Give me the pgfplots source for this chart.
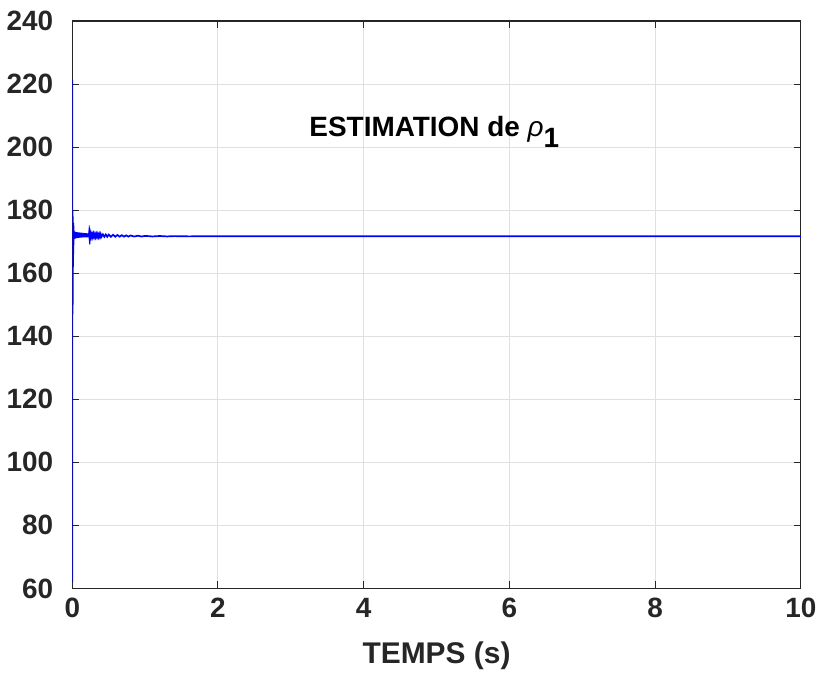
\documentclass[border=0pt]{standalone}
\usepackage{fontspec}
\setmainfont{Liberation Sans}
\usepackage{pgfplots}
\pgfplotsset{compat=1.18}
\definecolor{axgray}{gray}{0.15}
\definecolor{gridgray}{gray}{0.88}
\begin{document}
\begin{tikzpicture}
\begin{axis}[
  name=ax,
  scale only axis,
  width=364bp, height=283.5bp,
  xmin=0, xmax=10, ymin=60, ymax=240,
  xtick={0,2,...,10}, ytick={60,80,...,240},
  grid=major,
  major grid style={gridgray, line width=0.5bp},
  axis line style={axgray, line width=0.5bp},
  tick style={axgray, line width=0.5bp},
  tick align=inside,
  major tick length=3.5bp,
  /pgf/number format/assume math mode=true,
  tick label style={font=\fontsize{14}{16}\selectfont\bfseries, text=black!85},
  xticklabel style={yshift=-1.5bp},
  yticklabel style={xshift=-6bp},
  xlabel={TEMPS (s)},
  xlabel style={font=\fontsize{15}{17}\selectfont\bfseries, text=black!85, yshift=-5bp},
  clip=true,
]
\addplot[blue, line width=0.85bp] coordinates {
(0,62) (0,221) (0.001,221) (0.002,147) (0.004,180) (0.006,150) (0.008,178) (0.010,162) (0.012,176)
(0.014,166) (0.016,175) (0.018,169)
(0.02,173.5) (0.025,170.9) (0.03,173.2) (0.035,171.0) (0.04,173.1) (0.045,171.1) (0.05,173.0)
(0.055,171.15) (0.06,172.98) (0.065,171.2) (0.07,172.95) (0.075,171.22) (0.08,172.92) (0.085,171.25)
(0.09,172.9) (0.095,171.28) (0.10,172.87) (0.105,171.3) (0.11,172.85) (0.115,171.32) (0.12,172.82)
(0.125,171.33) (0.13,172.8) (0.135,171.35) (0.14,172.77) (0.145,171.36) (0.15,172.75)
(0.155,171.37) (0.16,172.72) (0.165,171.38) (0.17,172.7) (0.175,171.39) (0.18,172.68) (0.185,171.4) (0.19,172.66)
(0.195,171.41) (0.20,172.64) (0.205,171.42) (0.21,172.62) (0.215,171.43) (0.22,172.6) (0.225,171.44) (0.23,172.58)
(0.235,171.45) (0.24,172.56) (0.245,171.46) (0.25,172.54)
(0.26,171.47) (0.27,172.5) (0.28,171.48) (0.29,172.46) (0.30,171.5) (0.31,172.44) (0.32,171.5) (0.33,172.42)
(0.34,171.51) (0.35,172.4) (0.36,171.52) (0.37,172.38) (0.38,171.52) (0.39,172.36) (0.40,171.53) (0.42,172.32)
(0.44,171.54) (0.46,172.28) (0.48,171.55) (0.50,172.24) (0.53,171.56) (0.56,172.18) (0.59,171.57)
(0.62,172.12) (0.65,171.58) (0.68,172.06) (0.71,171.59) (0.74,172.0) (0.77,171.6)
(0.80,171.96) (0.85,171.62) (0.90,171.9) (0.95,171.63) (1.00,171.84) (1.1,171.65)
(1.2,171.8) (1.3,171.66) (1.4,171.76) (1.6,171.68) (1.8,171.72) (2,171.70) (10,171.70)
};
\node[anchor=base west, font=\fontsize{14}{16}\selectfont\bfseries, text=black, inner sep=0pt]
  at (axis cs:3.25,203.5) {ESTIMATION de {\mdseries\itshape ρ}\raisebox{-0.4em}{1}};
\end{axis}
\path ([yshift=10.5bp]ax.north west) coordinate (topmargin);
\end{tikzpicture}
\end{document}
